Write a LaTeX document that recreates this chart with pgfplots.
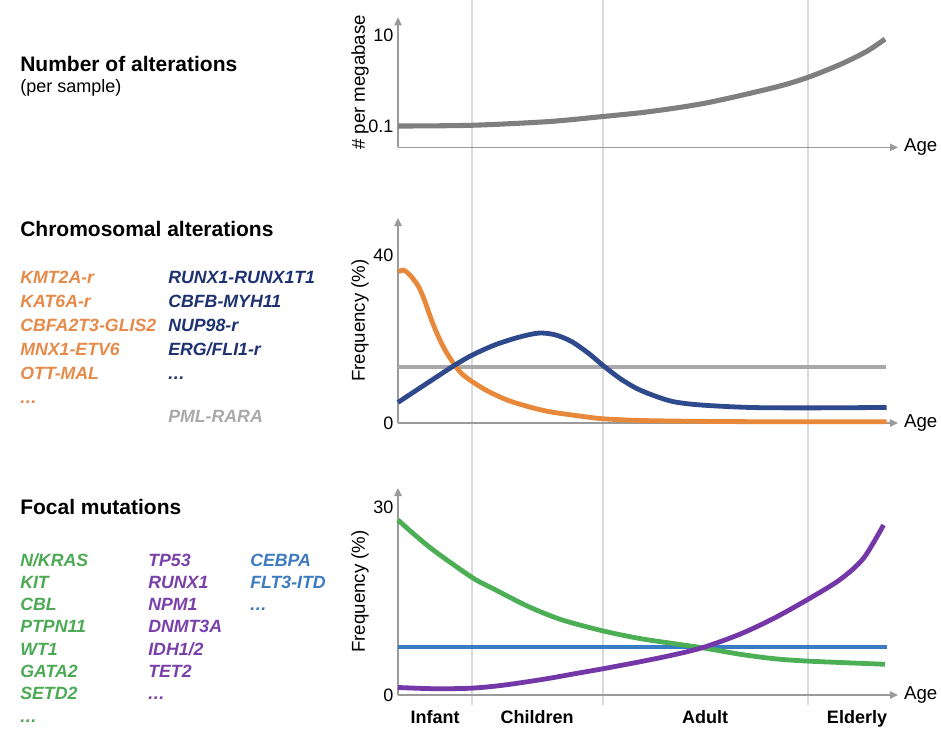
\documentclass[border=0pt]{standalone}
\usepackage{fontspec}
\setmainfont{Liberation Sans}
\usepackage{pgfplots}
\pgfplotsset{compat=1.18}
\usetikzlibrary{arrows.meta}
\definecolor{axisgray}{HTML}{9A9A9A}
\definecolor{gridgray}{HTML}{DADADA}
\definecolor{topgray}{HTML}{7F7F7F}
\definecolor{cgray}{HTML}{A9A9A9}
\definecolor{corange}{HTML}{E8883A}
\definecolor{tor}{HTML}{E68A4A}
\definecolor{cnavy}{HTML}{2E4A8C}
\definecolor{tnavy}{HTML}{1E3170}
\definecolor{cgreen}{HTML}{4DAF55}
\definecolor{tgreen}{HTML}{4CAA55}
\definecolor{cpurple}{HTML}{7437A8}
\definecolor{tpurple}{HTML}{7A40AA}
\definecolor{cblue}{HTML}{3A7CC4}
\definecolor{tblue}{HTML}{3D7AC0}
\pgfplotsset{panel/.style={
  anchor=south west, scale only axis, width=375pt,
  axis lines=left,
  axis line style={draw=axisgray, line width=1.1pt, -{Triangle[length=6pt,width=5.5pt]}},
  xmin=0, xmax=100, xtick=\empty, major tick length=0pt,
  tick label style={font=\fontsize{13.5}{15}\selectfont, text=black},
  ylabel style={at={(axis description cs:-0.076,0.5)}, anchor=center, font=\fontsize{14}{16}\selectfont},
  xlabel=Age, xlabel style={at={(axis description cs:1,0)}, anchor=west, xshift=1pt, font=\fontsize{14}{16}\selectfont},
  clip=false,
  every axis plot/.append style={line width=3.6pt, smooth, no marks}
}}
\newcommand{\gene}{\fontsize{13.3}{15}\selectfont\bfseries\itshape}
\newcommand{\ttl}{\fontsize{15.75}{18}\selectfont\bfseries}
\newcommand{\dotss}{.\kern0.5pt.\kern0.5pt.}
\begin{document}
\begin{tikzpicture}
\path[use as bounding box] (0pt,0pt) rectangle (705.75pt,-551.25pt);
% vertical guide lines
\draw[gridgray, line width=1.1pt] (354pt,0pt) -- (354pt,-528.75pt);
\draw[gridgray, line width=1.1pt] (452.25pt,0pt) -- (452.25pt,-528.75pt);
\draw[gridgray, line width=1.1pt] (606pt,0pt) -- (606pt,-528.75pt);
% Panel 1
\begin{axis}[panel, at={(298.5pt,-110.5pt)}, height=97.5pt,
  ymode=log, ymin=0.0354, ymax=25.4, ytick={0.1,10}, yticklabels={0.1,10},
  ylabel={\# per megabase}]
\addplot[topgray, line width=3.8pt] coordinates {(0,0.104) (14.7,0.108) (30,0.13) (40.9,0.168) (50.4,0.216) (61.7,0.335) (75.1,0.724) (81.7,1.19) (88.4,2.33) (93.7,4.52) (97.4,8.45)};
\end{axis}
% Panel 2
\begin{axis}[panel, at={(298.5pt,-317.25pt)}, height=153.75pt,
  ymin=0, ymax=48.8, ytick={0,40}, yticklabels={0,40},
  ylabel={Frequency (\%)}]
\addplot[cgray, line width=3pt, sharp plot] coordinates {(0,13.4) (97.6,13.4)};
\addplot[corange] coordinates {(0.1,36.0) (1.1,36.4) (2.4,35.2) (4.1,32.5) (5.4,28.9) (6.7,24.5) (8.1,20.5) (9.4,17.4) (11.1,14.2) (12.7,11.8) (14.9,9.8) (18.1,7.5) (22.7,5.1) (29.4,2.9) (36.1,1.7) (41.1,1.0) (48.7,0.6) (60,0.4) (75,0.3) (97.7,0.3)};
\addplot[cnavy] coordinates {(0,4.9) (4.7,8.6) (11.4,13.8) (14.9,16.2) (19.4,18.6) (24.1,20.4) (28.1,21.4) (31.4,21.0) (34.7,19.4) (38.1,16.6) (41.1,13.6) (44.4,10.6) (47.6,8.3) (51,6.6) (55,5.1) (60.4,4.3) (70.4,3.7) (82.1,3.6) (97.7,3.7)};
\end{axis}
% Panel 3
\begin{axis}[panel, at={(298.5pt,-521.25pt)}, height=155.25pt,
  ymin=0, ymax=33, ytick={0,30}, yticklabels={0,30},
  ylabel={Frequency (\%)},
  xtick={7.4,27.8,61.4,91.8}, xticklabels={Infant,Children,Adult,Elderly},
  xticklabel style={font=\fontsize{13.5}{15}\selectfont\bfseries, yshift=-8pt}]
\addplot[cblue, line width=3pt, sharp plot] coordinates {(0,7.6) (97.7,7.6)};
\addplot[cgreen] coordinates {(0,27.9) (3.4,25.5) (7.4,22.9) (14.9,18.7) (19.4,16.8) (26.1,14.1) (32.7,12.0) (41.1,10.2) (48.4,9.0) (55.1,8.2) (61.1,7.5) (68.4,6.5) (75.1,5.8) (82.1,5.4) (97.4,4.9)};
\addplot[cpurple] coordinates {(0,1.2) (7.5,1.0) (14.9,1.1) (21.4,1.6) (29.4,2.55) (36.1,3.5) (41.1,4.2) (48.4,5.3) (55.1,6.4) (61.1,7.6) (68.4,9.7) (75.1,12.2) (82.1,15.3) (88.4,18.4) (93.1,21.8) (97.1,27.1)};
\end{axis}
% Left texts
\node[anchor=base west, inner sep=0pt] at (15pt,-53.25pt) {\ttl Number of alterations};
\node[anchor=base west, inner sep=0pt] at (15pt,-69.75pt) {\fontsize{13.5}{15}\selectfont (per sample)};
\node[anchor=base west, inner sep=0pt] at (15pt,-177pt) {\ttl Chromosomal alterations};
\node[anchor=base west, inner sep=0pt] at (15pt,-385.5pt) {\ttl Focal mutations};
% chromosomal genes
\foreach \t [count=\i from 0] in {KMT2A-r,KAT6A-r,CBFA2T3-GLIS2,MNX1-ETV6,OTT-MAL}{
  \node[anchor=base west, inner sep=0pt, text=tor] at (15pt,{-212.25pt-18pt*\i}) {\gene \t};
}
\node[anchor=base west, inner sep=0pt, text=tor] at (15pt,-302.25pt) {\gene \dotss};
\foreach \t [count=\i from 0] in {RUNX1-RUNX1T1,CBFB-MYH11,NUP98-r,ERG/FLI1-r}{
  \node[anchor=base west, inner sep=0pt, text=tnavy] at (126pt,{-212.25pt-18pt*\i}) {\gene \t};
}
\node[anchor=base west, inner sep=0pt, text=tnavy] at (126pt,-284.25pt) {\gene \dotss};
\node[anchor=base west, inner sep=0pt, text=cgray] at (126pt,-316.5pt) {\gene PML-RARA};
% focal genes
\foreach \t [count=\i from 0] in {N/KRAS,KIT,CBL,PTPN11,WT1,GATA2,SETD2}{
  \node[anchor=base west, inner sep=0pt, text=tgreen] at (15pt,{-424.5pt-16.73pt*\i}) {\gene \t};
}
\node[anchor=base west, inner sep=0pt, text=tgreen] at (15pt,-541.6pt) {\gene \dotss};
\foreach \t [count=\i from 0] in {TP53,RUNX1,NPM1,DNMT3A,IDH1/2,TET2}{
  \node[anchor=base west, inner sep=0pt, text=tpurple] at (111pt,{-424.5pt-16.73pt*\i}) {\gene \t};
}
\node[anchor=base west, inner sep=0pt, text=tpurple] at (111pt,-524.9pt) {\gene \dotss};
\node[anchor=base west, inner sep=0pt, text=tblue] at (187.5pt,-424.5pt) {\gene CEBPA};
\node[anchor=base west, inner sep=0pt, text=tblue] at (187.5pt,-441.2pt) {\gene FLT3-ITD};
\node[anchor=base west, inner sep=0pt, text=tblue] at (187.5pt,-458pt) {\gene \dotss};
\end{tikzpicture}
\end{document}
